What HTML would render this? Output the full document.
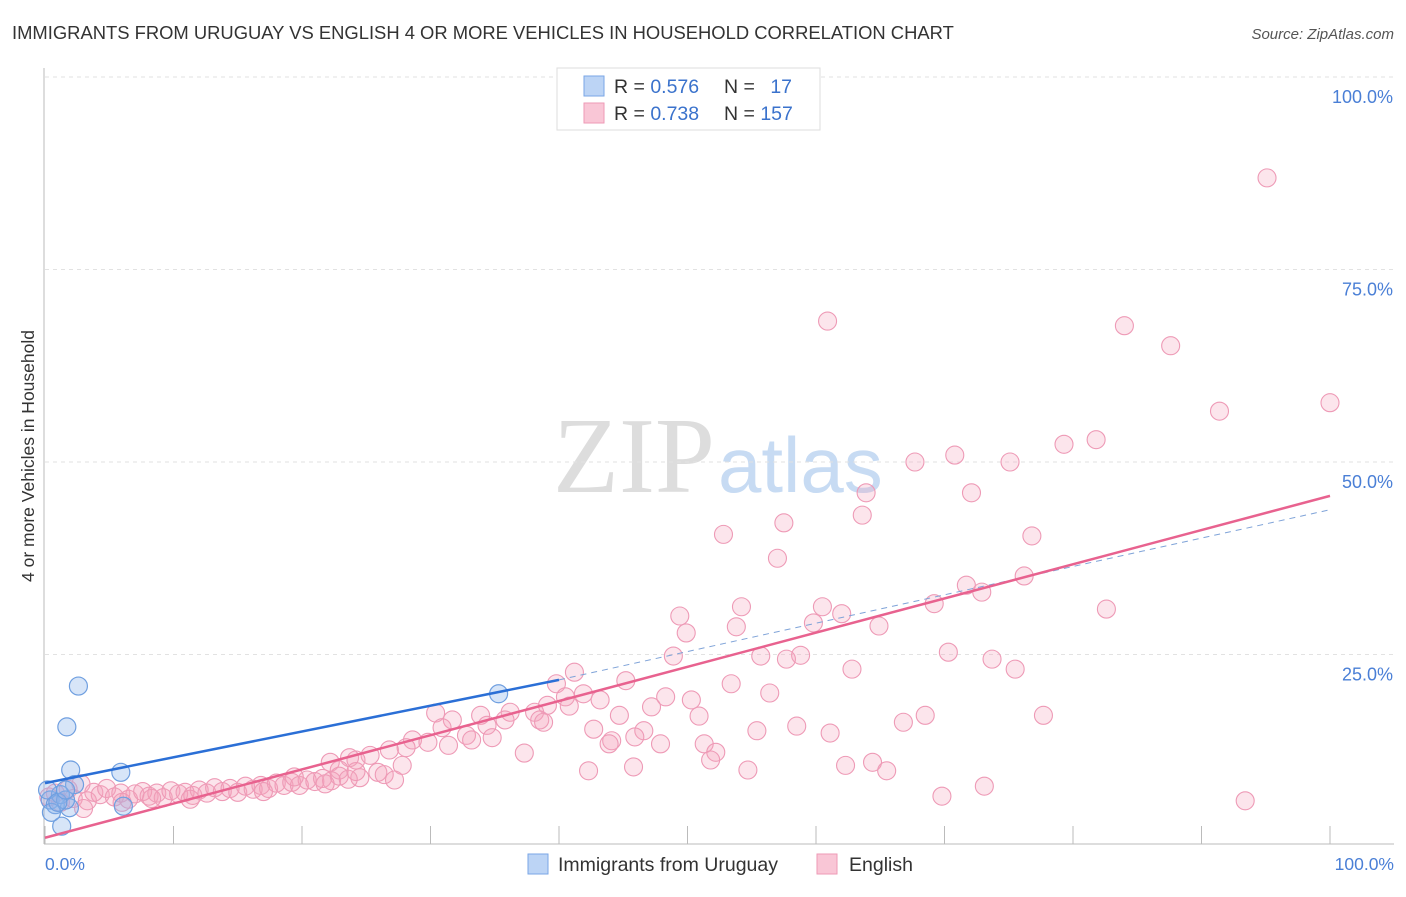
<!DOCTYPE html>
<html><head><meta charset="utf-8"><style>
body{margin:0;background:#fff;font-family:"Liberation Sans",sans-serif}
</style></head><body>
<svg width="1406" height="892" viewBox="0 0 1406 892" xmlns="http://www.w3.org/2000/svg">
<text x="12" y="39" font-size="18.4" fill="#333">IMMIGRANTS FROM URUGUAY VS ENGLISH 4 OR MORE VEHICLES IN HOUSEHOLD CORRELATION CHART</text>
<text x="1394" y="39" font-size="15" fill="#555" font-style="italic" text-anchor="end">Source: ZipAtlas.com</text>
<text x="553" y="492" font-size="108" fill="#ddd" font-family="Liberation Serif">ZIP</text>
<text x="718" y="492" font-size="78" fill="#c7dbf3">atlas</text>
<g id="grid"></g>
<g id="axes"></g>
<g id="marks"></g>
<text transform="translate(34,456) rotate(-90)" font-size="17.5" fill="#333" text-anchor="middle">4 or more Vehicles in Household</text>
<text x="45" y="870" font-size="17.5" fill="#4a7fd6">0.0%</text>
<text x="1394" y="870" font-size="17.5" fill="#4a7fd6" text-anchor="end">100.0%</text>
<g>
<rect x="557" y="68" width="263" height="62" fill="#fff" stroke="#ddd"/>
<rect x="584" y="76" width="20" height="20" fill="#bcd4f5" stroke="#7aa6e6"/>
<rect x="584" y="103" width="20" height="20" fill="#f9c6d6" stroke="#ee9ab6"/>
<text x="614" y="93" font-size="19.5" fill="#333">R = <tspan fill="#3a72cc">0.576</tspan></text>
<text x="724" y="93" font-size="19.5" fill="#333">N = <tspan fill="#3a72cc" dx="10">17</tspan></text>
<text x="614" y="120" font-size="19.5" fill="#333">R = <tspan fill="#3a72cc">0.738</tspan></text>
<text x="724" y="120" font-size="19.5" fill="#333">N = <tspan fill="#3a72cc">157</tspan></text>
</g>
<g>
<rect x="528" y="854" width="20" height="20" fill="#bcd4f5" stroke="#7aa6e6"/>
<text x="558" y="871" font-size="19.5" fill="#333">Immigrants from Uruguay</text>
<rect x="817" y="854" width="20" height="20" fill="#f9c6d6" stroke="#ee9ab6"/>
<text x="849" y="871" font-size="19.5" fill="#333">English</text>
</g>
</svg>
<script>
const yTicks=[25,50,75,100];
const yTickLabels=["25.0%","50.0%","75.0%","100.0%"];
const xTicks=[0,10,20,30,40,50,60,70,80,90,100];
const blueX=[2.6,1.7,2.0,5.9,6.1,1.3,1.9,0.4,0.8,1.2,1.6,0.2,0.5,1.0,2.3,1.6,35.3];
const blueY=[20.9,15.6,10.0,9.7,5.3,2.7,5.1,6.1,5.5,6.8,6.1,7.4,4.5,5.8,8.1,7.4,19.9];
const pinkX=[95.1,60.9,84.0,87.6,91.4,100,79.3,81.8,70.8,67.7,75.1,63.9,72.1,63.6,57.5,52.8,76.8,57.0,76.2,71.7,72.9,54.2,60.5,69.2,49.4,82.6,62.0,59.8,49.9,53.8,64.9,70.3,55.7,58.8,57.7,73.7,48.9,62.8,75.5,41.2,45.2,39.8,53.4,41.9,56.4,48.3,43.2,40.5,50.3,39.1,40.8,47.2,50.9,44.7,77.7,68.5,66.8,30.4,36.2,38.1,33.9,38.5,31.7,34.4,35.8,38.8,42.7,30.9,46.6,55.4,58.5,61.1,32.8,44.1,45.9,28.6,29.8,31.4,33.2,34.8,28.1,43.9,47.9,51.3,52.2,51.8,26.8,25.3,23.7,24.2,22.2,22.9,37.3,27.8,25.9,26.4,24.5,27.2,42.3,45.8,54.7,62.3,64.4,65.5,69.8,73.1,93.4,
0.3,0.8,1.2,1.8,2.2,2.8,3.3,3.8,4.3,4.8,5.4,5.9,6.5,7.0,7.6,8.1,8.7,9.2,9.8,10.4,10.9,11.5,12.0,12.6,13.2,13.8,14.4,15.0,15.6,16.2,16.8,17.4,18.0,18.6,19.2,19.8,20.4,21.0,21.6,22.3,22.9,23.6,6.0,8.3,3.0,11.3,17.0,19.4,21.8,24.2];
const pinkY=[86.9,68.3,67.7,65.1,56.6,57.7,52.3,52.9,50.9,50.0,50.0,46.0,46.0,43.1,42.1,40.6,40.4,37.5,35.2,34.0,33.1,31.2,31.2,31.6,30.0,30.9,30.3,29.1,27.8,28.6,28.7,25.3,24.8,24.9,24.4,24.4,24.8,23.1,23.1,22.7,21.6,21.2,21.2,19.9,20.0,19.5,19.1,19.5,19.1,18.4,18.3,18.2,17.0,17.1,17.1,17.1,16.2,17.4,17.5,17.5,17.1,16.5,16.5,15.8,16.5,16.2,15.3,15.5,15.1,15.1,15.7,14.8,14.5,13.8,14.3,13.9,13.6,13.2,13.9,14.2,12.9,13.4,13.4,13.4,12.3,11.3,12.6,11.9,11.6,11.3,11.0,10.0,12.2,10.6,9.7,9.4,9.0,8.7,9.9,10.4,10.0,10.6,11.0,9.9,6.6,7.9,6.0,
6.5,7.0,5.8,7.5,6.3,8.2,6.0,7.1,6.8,7.6,6.5,7.0,6.2,6.9,7.2,6.6,7.0,6.4,7.3,6.9,7.1,6.7,7.4,7.0,7.7,7.2,7.6,7.1,7.9,7.5,8.0,7.6,8.3,8.0,8.4,8.0,8.7,8.5,8.9,8.6,9.2,8.8,5.8,6.3,5.0,6.2,7.2,9.1,8.2,9.8];
const blueLine=[[0,8.3],[40,21.7]];
const blueDash=[[40,21.7],[100,43.8]];
const pinkLine=[[0,1.2],[100,45.6]];
const X=v=>45+v*12.85, Y=v=>847-v*7.7;
const NS="http://www.w3.org/2000/svg";
function mk(t,a,p){const e=document.createElementNS(NS,t);for(const k in a)e.setAttribute(k,a[k]);p.appendChild(e);return e;}
const grid=document.getElementById('grid'),axes=document.getElementById('axes'),marks=document.getElementById('marks');
yTicks.forEach((t,i)=>{
 const l=mk('line',{x1:45,x2:1394,y1:Y(t),y2:Y(t),stroke:'#e2e2e2','stroke-dasharray':'4,4'},grid);
 
 
 const tx=mk('text',{x:1393,y:Y(t)+26,'font-size':18,fill:'#4a7fd6','text-anchor':'end'},grid);
 tx.textContent=yTickLabels[i];
 
 
});
const ax=mk('line',{x1:44,x2:1394,y1:844,y2:844,stroke:'#bbb'},axes);


const ay=mk('line',{x1:44,x2:44,y1:68,y2:844,stroke:'#bbb'},axes);


xTicks.forEach(t=>{const l=mk('line',{x1:X(t),x2:X(t),y1:826,y2:844,stroke:'#bbb'},axes);
 
 });
pinkX.forEach((x,i)=>{const c=mk('circle',{cx:X(x),cy:Y(pinkY[i]),r:9,fill:'rgba(244,160,188,0.28)',stroke:'#ee9ab6','stroke-width':1.1},marks);
 
 });
blueX.forEach((x,i)=>{const c=mk('circle',{cx:X(x),cy:Y(blueY[i]),r:9,fill:'rgba(140,180,235,0.35)',stroke:'#6f9fe0','stroke-width':1.2},marks);
 
 });
const bd=mk('line',{x1:X(blueDash[0][0]),y1:Y(blueDash[0][1]),x2:X(blueDash[1][0]),y2:Y(blueDash[1][1]),stroke:'#7fa3d8','stroke-width':1,'stroke-dasharray':'6,5'},marks);


const pl=mk('line',{x1:X(pinkLine[0][0]),y1:Y(pinkLine[0][1]),x2:X(pinkLine[1][0]),y2:Y(pinkLine[1][1]),stroke:'#e8628f','stroke-width':2.5},marks);


const bl=mk('line',{x1:X(blueLine[0][0]),y1:Y(blueLine[0][1]),x2:X(blueLine[1][0]),y2:Y(blueLine[1][1]),stroke:'#2b6fd6','stroke-width':2.5},marks);


</script>
</body></html>
